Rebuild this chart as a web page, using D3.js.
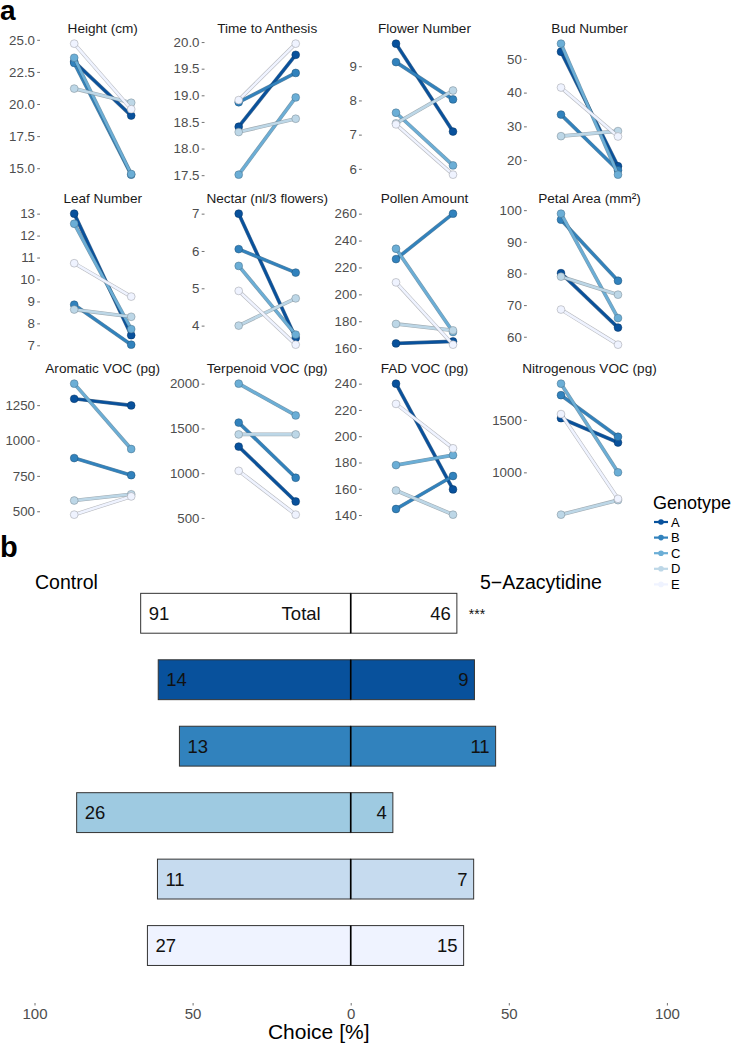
<!DOCTYPE html>
<html><head><meta charset="utf-8">
<script src="https://cdn.jsdelivr.net/npm/d3@7"></script>
<style>
body{margin:0;background:#fff;}
svg{display:block;font-family:"Liberation Sans",Arial,Helvetica,sans-serif;}
</style></head><body>
<svg id="chart" width="732" height="1044"></svg>
<script>
// ---------- data: panel a ----------
const genotypes = ["A", "B", "C", "D", "E"];
const lineColors = ["#08519c", "#3182bd", "#6baed6", "#bdd7e7", "#eff3ff"];
const treatments = ["Control", "5-Azacytidine"];

const panelTitles = ["Height (cm)", "Time to Anthesis", "Flower Number", "Bud Number",
  "Leaf Number", "Nectar (nl/3 flowers)", "Pollen Amount", "Petal Area (mm\u00B2)",
  "Aromatic VOC (pg)", "Terpenoid VOC (pg)", "FAD VOC (pg)", "Nitrogenous VOC (pg)"];

// values per genotype A..E
const heightControl = [23.3, 23.2, 23.6, 21.2, 24.7];
const heightAza = [19.1, 14.5, 14.55, 20.1, 19.6];
const anthesisControl = [18.41, 18.87, 17.51, 18.31, 18.91];
const anthesisAza = [19.76, 19.42, 18.96, 18.56, 19.97];
const flowerControl = [9.66, 9.12, 7.64, 7.33, 7.30];
const flowerAza = [7.09, 8.03, 6.10, 8.29, 5.83];
const budControl = [52.1, 33.5, 54.5, 27.1, 41.5];
const budAza = [18.2, 17.0, 15.7, 28.6, 27.0];
const leafControl = [13.0, 8.85, 12.54, 8.63, 10.74];
const leafAza = [7.46, 7.03, 7.74, 8.3, 9.22];
const nectarControl = [7.0, 6.05, 5.6, 4.0, 4.93];
const nectarAza = [3.67, 5.42, 3.76, 4.73, 3.49];
const pollenControl = [163.5, 226.2, 233.9, 178.0, 208.9];
const pollenAza = [165.0, 260.0, 172.0, 173.2, 162.6];
const petalControl = [80.1, 97.0, 98.9, 79.0, 68.6];
const petalAza = [62.9, 77.7, 65.9, 73.3, 57.5];
const aromaticControl = [1295, 876, 1402, 576, 476];
const aromaticAza = [1248, 755, 940, 620, 605];
const terpenoidControl = [1297, 1565, 2000, 1433, 1026];
const terpenoidAza = [684, 949, 1645, 1433, 537];
const fadControl = [240, 144.6, 178, 158.7, 224.6];
const fadAza = [159.5, 169.7, 185.6, 140.3, 190.8];
const nitroControl = [1516, 1735, 1845, 597, 1555];
const nitroAza = [1284, 1339, 1000, 735, 748];

const heightTicks = [15, 17.5, 20, 22.5, 25];
const anthesisTicks = [17.5, 18, 18.5, 19, 19.5, 20];
const flowerTicks = [6, 7, 8, 9];
const budTicks = [20, 30, 40, 50];
const leafTicks = [7, 8, 9, 10, 11, 12, 13];
const nectarTicks = [4, 5, 6, 7];
const pollenTicks = [160, 180, 200, 220, 240, 260];
const petalTicks = [60, 70, 80, 90, 100];
const aromaticTicks = [500, 750, 1000, 1250];
const terpenoidTicks = [500, 1000, 1500, 2000];
const fadTicks = [140, 160, 180, 200, 220, 240];
const nitroTicks = [1000, 1500];
const tickFormats = [".1f", ".1f", "d", "d", "d", "d", "d", "d", "d", "d", "d", "d"];

// ---------- data: panel b ----------
const barGroups = ["Total", "A", "B", "C", "D", "E"];
const barColors = ["#ffffff", "#08519c", "#3182bd", "#9ecae1", "#c6dbef", "#eff3ff"];
const controlCounts = [91, 14, 13, 26, 11, 27];
const azaCounts = [46, 9, 11, 4, 7, 15];
const choiceTicks = [-100, -50, 0, 50, 100];

// ---------- drawing ----------
const svg = d3.select("#chart");

const panelsData = [
  [heightControl, heightAza, heightTicks], [anthesisControl, anthesisAza, anthesisTicks],
  [flowerControl, flowerAza, flowerTicks], [budControl, budAza, budTicks],
  [leafControl, leafAza, leafTicks], [nectarControl, nectarAza, nectarTicks],
  [pollenControl, pollenAza, pollenTicks], [petalControl, petalAza, petalTicks],
  [aromaticControl, aromaticAza, aromaticTicks], [terpenoidControl, terpenoidAza, terpenoidTicks],
  [fadControl, fadAza, fadTicks], [nitroControl, nitroAza, nitroTicks]
];

const colLefts = [40, 204.5, 361.8, 526.8];
const rowTops = [37.1, 207.1, 377.1];
const pW = 125.4, pH = 144.1;

svg.append("text").attr("x", 0).attr("y", 20).attr("font-size", 28).attr("font-weight", "bold").text("a");

panelsData.forEach((pd, i) => {
  const [ctrl, aza, ticks] = pd;
  const left = colLefts[i % 4], top = rowTops[Math.floor(i / 4)];
  const x = d3.scalePoint().domain(treatments).range([left, left + pW]).padding(0.6);
  const all = ctrl.concat(aza);
  const [mn, mx] = d3.extent(all);
  const pad = (mx - mn) * 0.05;
  const y = d3.scaleLinear().domain([mn - pad, mx + pad]).range([top + pH, top]);
  const g = svg.append("g");

  const ax = g.append("g").attr("transform", `translate(${left},0)`)
    .call(d3.axisLeft(y).tickValues(ticks).tickSize(2.8).tickPadding(2.2).tickFormat(d3.format(tickFormats[i])));
  ax.select(".domain").remove();
  ax.selectAll("line").attr("stroke", "#4d4d4d").attr("stroke-width", 0.8);
  ax.selectAll("text").attr("fill", "#4d4d4d").attr("font-size", 13.3)
    .attr("font-family", "Liberation Sans, Arial, sans-serif");

  g.append("text").attr("x", left + pW / 2).attr("y", top - 8.6)
    .attr("text-anchor", "middle").attr("dominant-baseline", "central")
    .attr("font-size", 13.6).attr("fill", "#1a1a1a").text(panelTitles[i]);

  genotypes.forEach((gt, k) => {
    const col = lineColors[k];
    const dark = d3.color(col).darker(1.3).formatHex();
    const pts = [[treatments[0], ctrl[k]], [treatments[1], aza[k]]];
    const line = d3.line().x(d => x(d[0])).y(d => y(d[1]));
    g.append("path").attr("d", line(pts)).attr("fill", "none")
      .attr("stroke", dark).attr("stroke-opacity", 0.7).attr("stroke-width", 3.7);
    g.append("path").attr("d", line(pts)).attr("fill", "none")
      .attr("stroke", col).attr("stroke-width", 2.6);
    g.selectAll(null).data(pts).enter().append("circle")
      .attr("cx", d => x(d[0])).attr("cy", d => y(d[1])).attr("r", 3.9)
      .attr("fill", col).attr("stroke", dark).attr("stroke-opacity", 0.7).attr("stroke-width", 0.7);
  });
});

// legend
const lg = svg.append("g");
lg.append("text").attr("x", 653).attr("y", 503).attr("dominant-baseline", "central")
  .attr("font-size", 18).attr("fill", "#000").text("Genotype");
genotypes.forEach((gt, k) => {
  const cy = 522 + k * 15.6;
  lg.append("line").attr("x1", 654).attr("x2", 668).attr("y1", cy).attr("y2", cy)
    .attr("stroke", lineColors[k]).attr("stroke-width", 2.2);
  lg.append("circle").attr("cx", 661).attr("cy", cy).attr("r", 2.8).attr("fill", lineColors[k]);
  lg.append("text").attr("x", 671).attr("y", cy).attr("dominant-baseline", "central")
    .attr("font-size", 13).attr("fill", "#000").text(gt);
});

// ---------- panel b ----------
svg.append("text").attr("x", 0).attr("y", 557).attr("font-size", 29).attr("font-weight", "bold").text("b");
svg.append("text").attr("x", 35).attr("y", 582).attr("dominant-baseline", "central")
  .attr("font-size", 19.5).text("Control");
svg.append("text").attr("x", 480).attr("y", 582).attr("dominant-baseline", "central")
  .attr("font-size", 19.5).text("5\u2212Azacytidine");

const xb = d3.scaleLinear().domain([-100, 100]).range([34.5, 666.9]);
const yb = d3.scaleBand().domain(barGroups).range([573.4, 985.4]).paddingInner(0.4).paddingOuter(0.3);

const bg = svg.append("g");
barGroups.forEach((grp, i) => {
  const tot = controlCounts[i] + azaCounts[i];
  const cPct = controlCounts[i] / tot * 100;
  const aPct = azaCounts[i] / tot * 100;
  const y0 = yb(grp), h = yb.bandwidth(), cy = y0 + h / 2;
  bg.append("rect").attr("x", xb(-cPct)).attr("y", y0).attr("width", xb(0) - xb(-cPct)).attr("height", h)
    .attr("fill", barColors[i]).attr("stroke", "#333").attr("stroke-width", 1);
  bg.append("rect").attr("x", xb(0)).attr("y", y0).attr("width", xb(aPct) - xb(0)).attr("height", h)
    .attr("fill", barColors[i]).attr("stroke", "#333").attr("stroke-width", 1);
  bg.append("line").attr("x1", xb(0)).attr("x2", xb(0)).attr("y1", y0).attr("y2", y0 + h)
    .attr("stroke", "#000").attr("stroke-width", 1.6);
  bg.append("text").attr("x", xb(-cPct) + 8).attr("y", cy).attr("dominant-baseline", "central")
    .attr("font-size", 18.5).attr("fill", "#111").text(controlCounts[i]);
  bg.append("text").attr("x", xb(aPct) - 6).attr("y", cy).attr("dominant-baseline", "central")
    .attr("text-anchor", "end").attr("font-size", 18.5).attr("fill", "#111").text(azaCounts[i]);
  if (grp === "Total") {
    bg.append("text").attr("x", xb(0) - 30).attr("y", cy).attr("dominant-baseline", "central")
      .attr("text-anchor", "end").attr("font-size", 18.5).attr("fill", "#111").text("Total");
    bg.append("text").attr("x", xb(aPct) + 12).attr("y", cy + 1).attr("dominant-baseline", "central")
      .attr("font-size", 14).attr("fill", "#111").text("***");
  }
});

const xa = svg.append("g").attr("transform", "translate(0,1003)")
  .call(d3.axisBottom(xb).tickValues(choiceTicks).tickSize(2.5).tickPadding(2.5).tickFormat(d => Math.abs(d)));
xa.select(".domain").remove();
xa.selectAll("line").attr("stroke", "#4d4d4d").attr("stroke-width", 0.8);
xa.selectAll("text").attr("fill", "#4d4d4d").attr("font-size", 15)
  .attr("font-family", "Liberation Sans, Arial, sans-serif");

svg.append("text").attr("x", 318.7).attr("y", 1031.5).attr("text-anchor", "middle")
  .attr("dominant-baseline", "central").attr("font-size", 21).text("Choice [%]");
</script>
</body></html>
